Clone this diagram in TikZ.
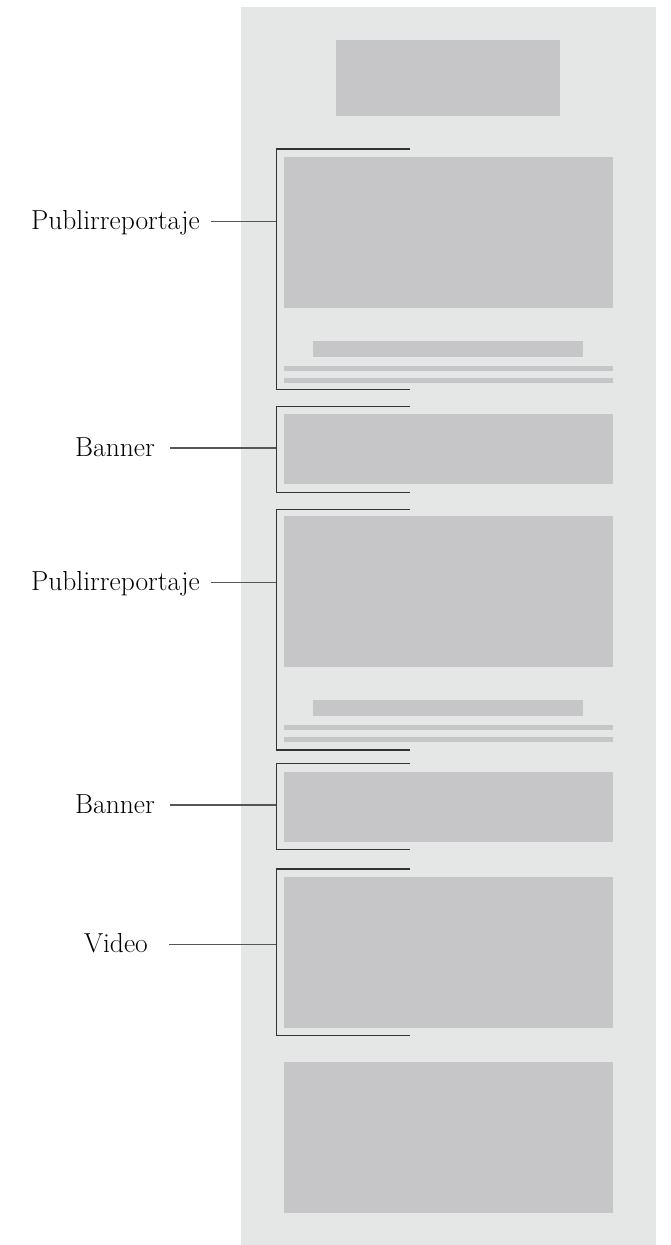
\documentclass[tikz,border=0pt]{standalone}
\usepackage{fontspec}
\definecolor{panelc}{HTML}{E5E6E6}
\definecolor{boxc}{HTML}{C6C6C8}
\definecolor{linec}{HTML}{333333}
\definecolor{leadc}{HTML}{555555}
\tikzset{
  blk/.style={fill=boxc, draw=none},
  brk/.style={draw=linec, line width=1.5pt},
  lead/.style={draw=leadc, line width=1.3pt},
  lbl/.style={inner sep=0pt, anchor=base east, font=\fontsize{27.5}{32}\selectfont, text=black}
}
\begin{document}
\begin{tikzpicture}[x=1pt,y=-1pt]
\useasboundingbox (0,0) rectangle (670,1245);
% panel
\fill[panelc] (241,7) rectangle (656,1245);
% top block
\fill[boxc] (336,40) rectangle (560,116);
% publirreportaje 1
\fill[boxc] (284,156.7) rectangle (613,307.7);
\fill[boxc] (313,341) rectangle (583,356.7);
\fill[boxc] (284,366) rectangle (613,371);
\fill[boxc] (284,378) rectangle (613,383);
% banner 1
\fill[boxc] (284,414) rectangle (613,483.7);
% publirreportaje 2
\fill[boxc] (284,516) rectangle (613,666.7);
\fill[boxc] (313,700) rectangle (583,715.7);
\fill[boxc] (284,725) rectangle (613,730);
\fill[boxc] (284,737) rectangle (613,742);
% banner 2
\fill[boxc] (284,772) rectangle (613,841.7);
% video
\fill[boxc] (284,877) rectangle (613,1028);
% bottom block
\fill[boxc] (284,1062) rectangle (613,1212.7);

% brackets
\draw[brk] (410,149) -- (276.3,149) -- (276.3,389.7) -- (410,389.7);
\draw[brk] (410,406.7) -- (276.3,406.7) -- (276.3,492.7) -- (410,492.7);
\draw[brk] (410,509.7) -- (276.3,509.7) -- (276.3,750) -- (410,750);
\draw[brk] (410,763.7) -- (276.3,763.7) -- (276.3,849.3) -- (410,849.3);
\draw[brk] (410,869) -- (276.3,869) -- (276.3,1035.3) -- (410,1035.3);

\coordinate (b1) at (276.3,221.7);
\coordinate (b2) at (276.3,448);
\coordinate (b3) at (276.3,582.7);
\coordinate (b4) at (276.3,805);
\coordinate (b5) at (276.3,944.7);

\node[lbl] (t1) at (200,229) {Publirreportaje};
\node[lbl] (t2) at (155,456.5) {Banner};
\node[lbl] (t3) at (200,590) {Publirreportaje};
\node[lbl] (t4) at (155,813) {Banner};
\node[lbl] (t5) at (148,952) {Video};

\draw[lead, shorten <=11pt] (t1.east |- b1) -- (b1);
\draw[lead, shorten <=15pt] (t2.east |- b2) -- (b2);
\draw[lead, shorten <=11pt] (t3.east |- b3) -- (b3);
\draw[lead, shorten <=15pt] (t4.east |- b4) -- (b4);
\draw[lead, shorten <=21pt] (t5.east |- b5) -- (b5);
\end{tikzpicture}
\end{document}
